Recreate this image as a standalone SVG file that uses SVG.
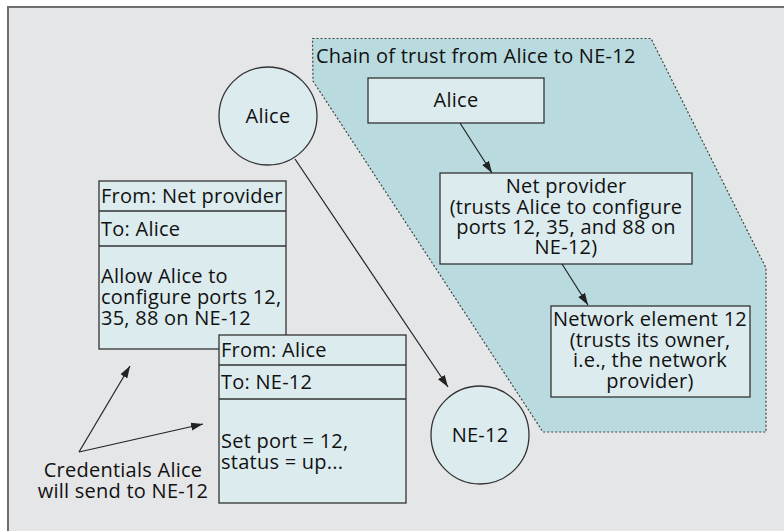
<svg xmlns="http://www.w3.org/2000/svg" width="784" height="531" viewBox="0 0 784 531">
<defs>
<marker id="ah" viewBox="0 0 12 10" refX="12" refY="5" markerWidth="12" markerHeight="10" markerUnits="userSpaceOnUse" orient="auto">
<path d="M0,1 L12,5 L0,9 Z" fill="#222"/>
</marker>
<style>
text{font-family:"Open Sans","Noto Sans","Liberation Sans",sans-serif;font-size:20px;letter-spacing:0.25px;fill:#111}
.c{text-anchor:middle}
.box{fill:#dcebee;stroke:#333;stroke-width:1.3}
.ln{stroke:#222;stroke-width:1.2;fill:none;marker-end:url(#ah)}
</style>
</defs>
<rect x="0" y="0" width="784" height="531" fill="#ffffff"/>
<rect x="8" y="7" width="776" height="524" fill="#e5e6e7"/>
<path d="M8,531 V7 H784" fill="none" stroke="#6f6f6f" stroke-width="2"/>

<g id="chain">
<path d="M312.5,38.5 H651 L766,268 V432 H543 L313,81 Z" fill="#b9dbdf" stroke="#444" stroke-width="1.2" stroke-dasharray="2,2"/>
<text x="316" y="63">Chain of trust from Alice to NE-12</text>
</g>

<g id="alice-circle">
<circle cx="268" cy="116" r="49" class="box"/>
<text x="268" y="123" class="c">Alice</text>
</g>

<g id="ne12-circle">
<circle cx="480" cy="435" r="49" class="box"/>
<text x="480" y="442" class="c">NE-12</text>
</g>

<g id="alice-box">
<rect x="368" y="78" width="176" height="45" class="box"/>
<text x="456" y="107" class="c">Alice</text>
</g>

<g id="netprovider-box">
<rect x="440" y="173" width="252" height="91" class="box"/>
<text class="c"><tspan x="566" y="193">Net provider</tspan><tspan x="566" y="214">(trusts Alice to configure</tspan><tspan x="566" y="234">ports 12, 35, and 88 on</tspan><tspan x="566" y="254">NE-12)</tspan></text>
</g>

<g id="ne-box">
<rect x="551" y="306" width="199" height="91" class="box"/>
<text class="c"><tspan x="650" y="326">Network element 12</tspan><tspan x="650" y="347">(trusts its owner,</tspan><tspan x="650" y="367">i.e., the network</tspan><tspan x="650" y="388">provider)</tspan></text>
</g>

<g id="cred1">
<rect x="99" y="181" width="187" height="168" class="box"/>
<line x1="99" y1="211" x2="286" y2="211" stroke="#333" stroke-width="1.3"/>
<line x1="99" y1="246" x2="286" y2="246" stroke="#333" stroke-width="1.3"/>
<text x="101" y="203">From: Net provider</text>
<text x="101" y="236">To: Alice</text>
<text><tspan x="101" y="283">Allow Alice to</tspan><tspan x="101" y="304">configure ports 12,</tspan><tspan x="101" y="325">35, 88 on NE-12</tspan></text>
</g>

<g id="cred2">
<rect x="219" y="335" width="187" height="168" class="box"/>
<line x1="219" y1="365" x2="406" y2="365" stroke="#333" stroke-width="1.3"/>
<line x1="219" y1="399" x2="406" y2="399" stroke="#333" stroke-width="1.3"/>
<text x="221" y="357">From: Alice</text>
<text x="221" y="389">To: NE-12</text>
<text><tspan x="221" y="448">Set port = 12,</tspan><tspan x="221" y="469">status = up...</tspan></text>
</g>

<g id="caption">
<text class="c"><tspan x="123" y="477">Credentials Alice</tspan><tspan x="123" y="498">will send to NE-12</tspan></text>
</g>

<g id="connectors">
<line x1="295" y1="159" x2="448" y2="387" class="ln"/>
<line x1="460" y1="123" x2="492" y2="173" class="ln"/>
<line x1="562" y1="264" x2="588" y2="305" class="ln"/>
<line x1="79" y1="452" x2="130" y2="366" class="ln"/>
<line x1="79" y1="452" x2="203" y2="424" class="ln"/>
</g>
</svg>
